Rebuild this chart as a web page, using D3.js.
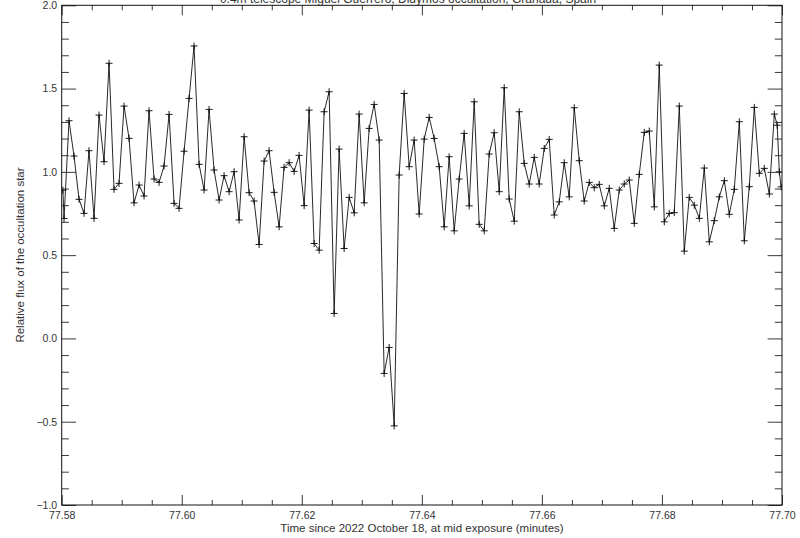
<!DOCTYPE html>
<html>
<head>
<meta charset="utf-8">
<script src="https://cdn.jsdelivr.net/npm/d3@7"></script>
<style>
  html, body { margin: 0; padding: 0; background: #fff; }
  svg { display: block; }
  text { font-family: "Liberation Sans", "DejaVu Sans", sans-serif; fill: #333; }
</style>
</head>
<body>
<svg id="chart" width="800" height="538"></svg>
<script>
// ---- data ----
const chartTitle = "0.4m telescope Miguel Guerrero, Didymos occultation, Granada, Spain";
const xTitle = "Time since 2022 October 18, at mid exposure (minutes)";
const yTitle = "Relative flux of the occultation star";

const xMajorTicks = [77.58, 77.60, 77.62, 77.64, 77.66, 77.68, 77.70];
const xTickLabels = ["77.58", "77.60", "77.62", "77.64", "77.66", "77.68", "77.70"];
const xMinorTicks = [77.585, 77.59, 77.595, 77.605, 77.61, 77.615, 77.625, 77.63, 77.635,
  77.645, 77.65, 77.655, 77.665, 77.67, 77.675, 77.685, 77.69, 77.695];
const yMajorTicks = [-1.0, -0.5, 0.0, 0.5, 1.0, 1.5, 2.0];
const yTickLabels = ["\u22121.0", "\u22120.5", "0.0", "0.5", "1.0", "1.5", "2.0"];
const yMinorTicks = [-0.9, -0.8, -0.7, -0.6, -0.4, -0.3, -0.2, -0.1, 0.1, 0.2, 0.3, 0.4,
  0.6, 0.7, 0.8, 0.9, 1.1, 1.2, 1.3, 1.4, 1.6, 1.7, 1.8, 1.9];

const times = [
  77.58020, 77.58039,
  77.58122, 77.58205, 77.58289, 77.58372, 77.58455, 77.58539, 77.58622, 77.58705, 77.58789, 77.58872, 77.58955, 77.59039,
  77.59122, 77.59205, 77.59289, 77.59372, 77.59455, 77.59539, 77.59622, 77.59705, 77.59789, 77.59872, 77.59955, 77.60039,
  77.60122, 77.60205, 77.60289, 77.60372, 77.60455, 77.60539, 77.60622, 77.60705, 77.60789, 77.60872, 77.60955, 77.61039,
  77.61122, 77.61205, 77.61289, 77.61372, 77.61455, 77.61539, 77.61622, 77.61705, 77.61789, 77.61872, 77.61955, 77.62039,
  77.62122, 77.62205, 77.62289, 77.62372, 77.62455, 77.62539, 77.62622, 77.62705, 77.62789, 77.62872, 77.62955, 77.63039,
  77.63122, 77.63205, 77.63289, 77.63372, 77.63455, 77.63539, 77.63622, 77.63705, 77.63789, 77.63872, 77.63955, 77.64039,
  77.64122, 77.64205, 77.64289, 77.64372, 77.64455, 77.64539, 77.64622, 77.64705, 77.64789, 77.64872, 77.64955, 77.65039,
  77.65122, 77.65205, 77.65289, 77.65372, 77.65455, 77.65539, 77.65622, 77.65705, 77.65789, 77.65872, 77.65955, 77.66039,
  77.66122, 77.66205, 77.66289, 77.66372, 77.66455, 77.66539, 77.66622, 77.66705, 77.66789, 77.66872, 77.66955, 77.67039,
  77.67122, 77.67205, 77.67289, 77.67372, 77.67455, 77.67539, 77.67622, 77.67705, 77.67789, 77.67872, 77.67955, 77.68039,
  77.68122, 77.68205, 77.68289, 77.68372, 77.68455, 77.68539, 77.68622, 77.68705, 77.68789, 77.68872, 77.68955, 77.69039,
  77.69122, 77.69205, 77.69289, 77.69372, 77.69455, 77.69539, 77.69622, 77.69705, 77.69789, 77.69872,
  77.69920, 77.69955, 77.69985
];

const flux = [
  0.89, 0.72,
  1.307, 1.095, 0.835, 0.751, 1.127, 0.721, 1.341, 1.061, 1.652, 0.895, 0.931, 1.395,
  1.201, 0.814, 0.921, 0.855, 1.367, 0.957, 0.937, 1.035, 1.345, 0.811, 0.781, 1.124,
  1.441, 1.756, 1.045, 0.891, 1.375, 1.011, 0.831, 0.977, 0.881, 1.001, 0.711, 1.211,
  0.875, 0.825, 0.564, 1.065, 1.127, 0.877, 0.670, 1.027, 1.055, 1.003, 1.099, 0.797,
  1.371, 0.570, 0.530, 1.361, 1.481, 0.150, 1.137, 0.540, 0.847, 0.754, 1.347, 0.814,
  1.261, 1.405, 1.191, -0.210, -0.054, -0.525, 0.981, 1.471, 1.031, 1.191, 0.747, 1.197,
  1.327, 1.201, 1.031, 0.670, 1.091, 0.646, 0.957, 1.231, 0.796, 1.421, 0.685, 0.646,
  1.107, 1.235, 0.881, 1.505, 0.837, 0.704, 1.361, 1.051, 0.927, 1.087, 0.927, 1.141,
  1.195, 0.741, 0.820, 1.055, 0.850, 1.385, 1.067, 0.825, 0.937, 0.905, 0.925, 0.796,
  0.901, 0.661, 0.891, 0.927, 0.951, 0.691, 0.985, 1.237, 1.245, 0.790, 1.641, 0.700,
  0.751, 0.755, 1.395, 0.524, 0.847, 0.800, 0.721, 1.023, 0.580, 0.707, 0.850, 0.947,
  0.745, 0.895, 1.301, 0.586, 0.911, 1.387, 0.991, 1.021, 0.867, 1.347,
  1.28, 1.00, 0.91
];

// ---- layout ----
const L = 61.7, R = 782, T = 5.3, B = 505;
const svg = d3.select("#chart");
svg.append("rect").attr("width", 800).attr("height", 538).attr("fill", "#fff");

const x = d3.scaleLinear().domain([77.58, 77.70]).range([L, R]);
const y = d3.scaleLinear().domain([-1.0, 2.0]).range([B, T]);

const data = times.map((t, i) => ({ t, v: flux[i] }));

// clip
svg.append("clipPath").attr("id", "plotclip")
  .append("rect").attr("x", L).attr("y", T).attr("width", R - L).attr("height", B - T);

// data line + crosses
const g = svg.append("g").attr("clip-path", "url(#plotclip)");
g.append("path")
  .datum(data)
  .attr("fill", "none")
  .attr("stroke", "#111")
  .attr("stroke-width", 0.9)
  .attr("d", d3.line().x(d => x(d.t)).y(d => y(d.v)));

const cs = 3.5;
g.append("path")
  .attr("fill", "none")
  .attr("stroke", "#000")
  .attr("stroke-width", 0.9)
  .attr("d", data.map(d => {
    const px = x(d.t), py = y(d.v);
    return `M${px - cs},${py}H${px + cs}M${px},${py - cs}V${py + cs}`;
  }).join(""));

// ---- axes ----
const axisStyle = sel => {
  sel.select(".domain").remove();
  sel.selectAll(".tick line").attr("stroke", "#222").attr("stroke-width", 0.9);
};
const xMajorLen = 10, xMinorLen = 5, yMajorLen = 14.4, yMinorLen = 7.2;

// bottom
const gB = svg.append("g").attr("transform", `translate(0,${B})`)
  .call(d3.axisBottom(x).tickValues(xMajorTicks).tickSizeInner(-xMajorLen).tickSizeOuter(0)
    .tickPadding(6).tickFormat((d, i) => xTickLabels[i]));
axisStyle(gB);
gB.selectAll(".tick text").attr("font-size", 10.5).attr("fill", "#333")
  .attr("font-family", "Liberation Sans, DejaVu Sans, sans-serif").attr("dy", "0.72em");
svg.append("g").attr("transform", `translate(0,${B})`)
  .call(d3.axisBottom(x).tickValues(xMinorTicks).tickSizeInner(-xMinorLen).tickSizeOuter(0).tickFormat(""))
  .call(axisStyle);

// top
svg.append("g").attr("transform", `translate(0,${T})`)
  .call(d3.axisTop(x).tickValues(xMajorTicks).tickSizeInner(-xMajorLen).tickSizeOuter(0).tickFormat(""))
  .call(axisStyle);
svg.append("g").attr("transform", `translate(0,${T})`)
  .call(d3.axisTop(x).tickValues(xMinorTicks).tickSizeInner(-xMinorLen).tickSizeOuter(0).tickFormat(""))
  .call(axisStyle);

// left
const gL = svg.append("g").attr("transform", `translate(${L},0)`)
  .call(d3.axisLeft(y).tickValues(yMajorTicks).tickSizeInner(-yMajorLen).tickSizeOuter(0)
    .tickPadding(4.5).tickFormat((d, i) => yTickLabels[i]));
axisStyle(gL);
gL.selectAll(".tick text").attr("font-size", 10.5).attr("fill", "#333")
  .attr("font-family", "Liberation Sans, DejaVu Sans, sans-serif");
svg.append("g").attr("transform", `translate(${L},0)`)
  .call(d3.axisLeft(y).tickValues(yMinorTicks).tickSizeInner(-yMinorLen).tickSizeOuter(0).tickFormat(""))
  .call(axisStyle);

// right
svg.append("g").attr("transform", `translate(${R},0)`)
  .call(d3.axisRight(y).tickValues(yMajorTicks).tickSizeInner(-yMajorLen).tickSizeOuter(0).tickFormat(""))
  .call(axisStyle);
svg.append("g").attr("transform", `translate(${R},0)`)
  .call(d3.axisRight(y).tickValues(yMinorTicks).tickSizeInner(-yMinorLen).tickSizeOuter(0).tickFormat(""))
  .call(axisStyle);

// frame
svg.append("rect").attr("x", L).attr("y", T).attr("width", R - L).attr("height", B - T)
  .attr("fill", "none").attr("stroke", "#111").attr("stroke-width", 1);

// ---- titles ----
svg.append("text").attr("x", 422).attr("y", 531.5).attr("text-anchor", "middle")
  .attr("font-size", 11.5).text(xTitle);
svg.append("text").attr("transform", "translate(24,255) rotate(-90)")
  .attr("text-anchor", "middle").attr("font-size", 11.5).text(yTitle);
svg.append("text").attr("x", 408).attr("y", 3).attr("text-anchor", "middle")
  .attr("font-size", 12).text(chartTitle);
</script>
</body>
</html>
